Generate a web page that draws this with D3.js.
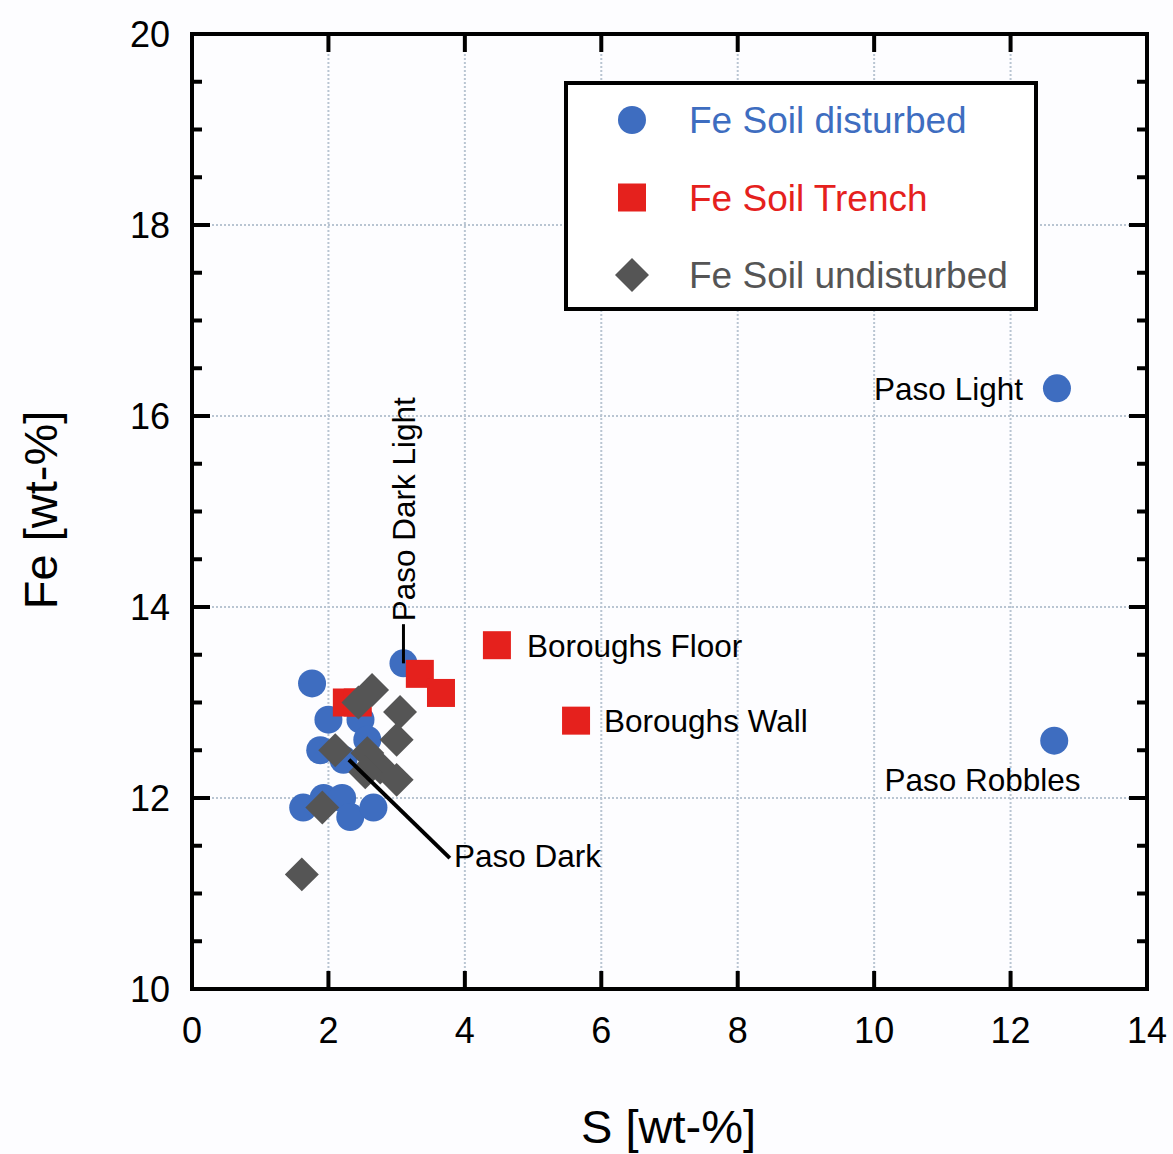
<!DOCTYPE html>
<html>
<head>
<meta charset="utf-8">
<script src="https://cdn.jsdelivr.net/npm/d3@7"></script>
<style>
  body { margin: 0; background: #fdfdff; }
  text { font-family: "Liberation Sans", Arial, sans-serif; }
</style>
</head>
<body>
<div id="chart"></div>
<script>
// données
const disturbedS  = [12.68, 12.64, 3.10, 1.76, 2.00, 2.47, 1.88, 2.57, 2.22, 1.63, 1.93, 2.20, 2.32, 2.66];
const disturbedFe = [16.29, 12.60, 13.41, 13.20, 12.82, 12.82, 12.50, 12.61, 12.40, 11.90, 12.00, 12.00, 11.80, 11.90];

const trenchS  = [4.47, 5.63, 3.34, 3.65, 2.27, 2.43];
const trenchFe = [13.60, 12.81, 13.30, 13.10, 13.00, 13.00];

const undisturbedS  = [2.44, 2.64, 3.05, 3.00, 2.10, 2.57, 2.76, 3.00, 2.54, 1.91, 1.61];
const undisturbedFe = [13.00, 13.13, 12.90, 12.61, 12.50, 12.47, 12.32, 12.19, 12.27, 11.90, 11.20];

const xTicks = [0, 2, 4, 6, 8, 10, 12, 14];
const yTicks = [10, 12, 14, 16, 18, 20];
const seriesNames = ["Fe Soil disturbed", "Fe Soil Trench", "Fe Soil undisturbed"];

// Dimensions
const W = 1173, H = 1154;
const margin = { top: 34, left: 192, right: 26, bottom: 165 };
const width = W - margin.left - margin.right;
const height = H - margin.top - margin.bottom;

const blue = "#3e6dc0", red = "#e5211d", grey = "#555555";

const svg = d3.select('#chart')
    .append('svg')
    .attr('width', W)
    .attr('height', H);

const g = svg.append('g')
    .attr('transform', `translate(${margin.left},${margin.top})`);

const x = d3.scaleLinear().domain([0, 14]).range([0, width]);
const y = d3.scaleLinear().domain([10, 20]).range([height, 0]);

// grille pointillée
g.append('g').selectAll('line')
    .data(xTicks.slice(1, -1))
    .join('line')
    .attr('x1', d => x(d)).attr('x2', d => x(d))
    .attr('y1', 0).attr('y2', height)
    .attr('stroke', '#b9c5d2').attr('stroke-width', 2).attr('stroke-dasharray', '2,2');
g.append('g').selectAll('line')
    .data(yTicks.slice(1, -1))
    .join('line')
    .attr('y1', d => y(d)).attr('y2', d => y(d))
    .attr('x1', 0).attr('x2', width)
    .attr('stroke', '#b9c5d2').attr('stroke-width', 2).attr('stroke-dasharray', '2,2');

// graduations vers l'intérieur
const ax = g.append('g').attr('stroke', '#000').attr('stroke-width', 4);
xTicks.slice(1, -1).forEach(t => {
    ax.append('line').attr('x1', x(t)).attr('x2', x(t)).attr('y1', height).attr('y2', height - 18);
    ax.append('line').attr('x1', x(t)).attr('x2', x(t)).attr('y1', 0).attr('y2', 18);
});
d3.range(10.5, 20, 0.5).forEach(t => {
    const len = (t % 2 === 0) ? 18 : 10;
    ax.append('line').attr('x1', 0).attr('x2', len).attr('y1', y(t)).attr('y2', y(t));
    ax.append('line').attr('x1', width).attr('x2', width - len).attr('y1', y(t)).attr('y2', y(t));
});

// cadre
g.append('rect')
    .attr('width', width).attr('height', height)
    .attr('fill', 'none').attr('stroke', '#000').attr('stroke-width', 4);

// labels des axes
g.append('g').selectAll('text')
    .data(xTicks)
    .join('text')
    .attr('x', d => x(d)).attr('y', height + 54)
    .attr('text-anchor', 'middle')
    .attr('font-size', 36)
    .text(d => d);
g.append('g').selectAll('text')
    .data(yTicks)
    .join('text')
    .attr('x', -22).attr('y', d => y(d)).attr('dy', '0.36em')
    .attr('text-anchor', 'end')
    .attr('font-size', 36)
    .text(d => d);

svg.append('text')
    .attr('x', margin.left + width / 2 - 1).attr('y', 1143)
    .attr('text-anchor', 'middle').attr('font-size', 47)
    .text('S [wt-%]');
svg.append('text')
    .attr('transform', `translate(57, 510) rotate(-90)`)
    .attr('text-anchor', 'middle').attr('font-size', 47)
    .text('Fe [wt-%]');

// points
g.append('g').selectAll('circle')
    .data(d3.zip(disturbedS, disturbedFe))
    .join('circle')
    .attr('cx', d => x(d[0])).attr('cy', d => y(d[1]))
    .attr('r', 14).attr('fill', blue);

g.append('g').selectAll('rect')
    .data(d3.zip(trenchS, trenchFe))
    .join('rect')
    .attr('x', d => x(d[0]) - 14).attr('y', d => y(d[1]) - 14)
    .attr('width', 28).attr('height', 28).attr('fill', red);

g.append('g').selectAll('rect')
    .data(d3.zip(undisturbedS, undisturbedFe))
    .join('rect')
    .attr('x', -12).attr('y', -12).attr('width', 24).attr('height', 24)
    .attr('transform', d => `translate(${x(d[0])},${y(d[1])}) rotate(45)`)
    .attr('fill', grey);

// lignes de renvoi (par-dessus les points)
g.append('line')
    .attr('x1', x(2.3)).attr('y1', y(12.4))
    .attr('x2', x(3.78)).attr('y2', y(11.37))
    .attr('stroke', '#000').attr('stroke-width', 4);
g.append('line')
    .attr('x1', x(3.10)).attr('y1', y(13.41))
    .attr('x2', x(3.10)).attr('y2', y(13.82))
    .attr('stroke', '#000').attr('stroke-width', 3);

// annotations
const annot = g.append('g').attr('font-size', 31.5).attr('fill', '#000');
annot.append('text').attr('x', x(12.68) - 34).attr('y', y(16.29)).attr('dy', '0.36em')
    .attr('text-anchor', 'end').text('Paso Light');
annot.append('text').attr('x', x(10.15)).attr('y', y(12.19)).attr('dy', '0.36em')
    .text('Paso Robbles');
annot.append('text').attr('x', x(4.47) + 30).attr('y', y(13.60)).attr('dy', '0.36em')
    .text('Boroughs Floor');
annot.append('text').attr('x', x(5.63) + 28).attr('y', y(12.81)).attr('dy', '0.36em')
    .text('Boroughs Wall');
annot.append('text').attr('x', x(3.84)).attr('y', y(11.40)).attr('dy', '0.36em')
    .text('Paso Dark');
annot.append('text')
    .attr('transform', `translate(${x(3.10) + 12},${y(13.85)}) rotate(-90)`)
    .text('Paso Dark Light');

// légende
const leg = svg.append('g').attr('transform', 'translate(566, 83)');
leg.append('rect').attr('width', 470).attr('height', 226)
    .attr('fill', '#fff').attr('stroke', '#000').attr('stroke-width', 4);
const legColors = [blue, red, grey];
seriesNames.forEach((name, i) => {
    const cy = 37 + i * 77.5;
    if (i === 0) leg.append('circle').attr('cx', 66).attr('cy', cy).attr('r', 14).attr('fill', blue);
    if (i === 1) leg.append('rect').attr('x', 52).attr('y', cy - 14).attr('width', 28).attr('height', 28).attr('fill', red);
    if (i === 2) leg.append('rect').attr('x', -12).attr('y', -12).attr('width', 24).attr('height', 24)
        .attr('transform', `translate(66,${cy}) rotate(45)`).attr('fill', grey);
    leg.append('text').attr('x', 123).attr('y', cy).attr('dy', '0.36em')
        .attr('font-size', 37).attr('fill', legColors[i]).text(name);
});
</script>
</body>
</html>
